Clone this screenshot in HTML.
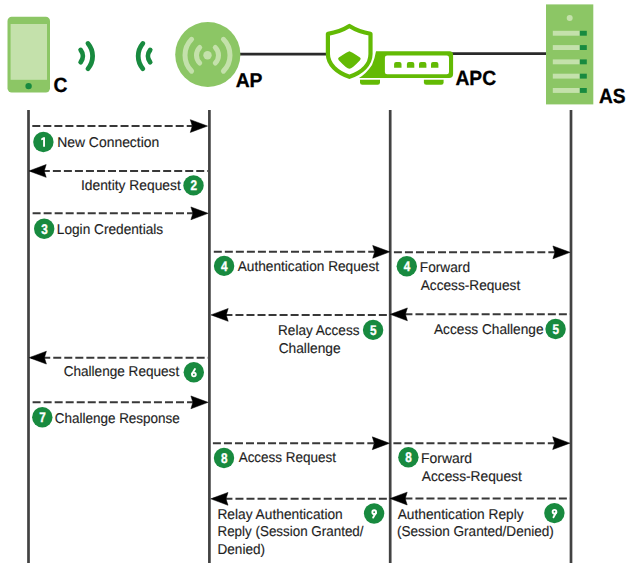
<!DOCTYPE html>
<html><head><meta charset="utf-8"><style>
html,body{margin:0;padding:0;background:#fff;}
svg{display:block;font-family:"Liberation Sans",sans-serif;}
</style></head><body>
<svg width="628" height="571" viewBox="0 0 628 571">
<rect width="628" height="571" fill="#fff"/>
<rect x="7.5" y="16.7" width="42.5" height="75.7" rx="4.2" fill="#8cc665"/>
<rect x="10.6" y="24" width="36.4" height="55.8" fill="#c4e1ab"/>
<circle cx="28.6" cy="86.1" r="3.2" fill="#188a3f"/>
<text x="53.40" y="91.7" font-size="20.6" font-weight="bold" fill="#000" stroke="#000" stroke-width="0.3" textLength="13.9" lengthAdjust="spacingAndGlyphs" text-rendering="geometricPrecision">C</text>
<path d="M80.67 50.00 A9.8 9.8 0 0 1 80.67 62.20 M87.97 43.45 A19.6 19.6 0 0 1 87.97 68.75" fill="none" stroke="#188a3f" stroke-width="4.8" stroke-linecap="round"/>
<path d="M150.17 62.25 A9.8 9.8 0 0 1 150.17 49.95 M142.83 68.75 A19.6 19.6 0 0 1 142.83 43.45" fill="none" stroke="#188a3f" stroke-width="4.8" stroke-linecap="round"/>
<line x1="236" y1="54.1" x2="330" y2="54.1" stroke="#2a2a2a" stroke-width="2.8"/>
<line x1="450" y1="53.65" x2="550" y2="53.65" stroke="#2a2a2a" stroke-width="2.8"/>
<circle cx="207.8" cy="54.5" r="32.6" fill="#8cc665"/>
<circle cx="207.5" cy="55.2" r="4.2" fill="#c4e1ab"/>
<path d="M199.72 62.98 A11 11 0 0 1 199.72 47.42 M191.59 71.11 A22.5 22.5 0 0 1 191.59 39.29 M215.28 47.42 A11 11 0 0 1 215.28 62.98 M223.41 39.29 A22.5 22.5 0 0 1 223.41 71.11" fill="none" stroke="#c4e1ab" stroke-width="5" stroke-linecap="round"/>
<text x="235.70" y="86.8" font-size="19.9" font-weight="bold" fill="#000" stroke="#000" stroke-width="0.3" textLength="26.8" lengthAdjust="spacingAndGlyphs" text-rendering="geometricPrecision">AP</text>
<path d="M349.4 26 C343 30 335 32.7 327.9 33.8 L327.9 54 C327.9 64.5 337 72.5 349.4 76.8 C361.8 72.5 370.5 64.5 370.5 54 L370.5 33.8 C363.8 32.7 355.8 30 349.4 26 Z" fill="#fff" stroke="#63ba04" stroke-width="4.2" stroke-linejoin="round"/>
<path d="M349.4 51.2 Q350.5 51.2 360 57.5 Q361.5 58.8 360 60.2 Q352 68.8 349.4 68.8 Q346.8 68.8 338.8 60.2 Q337.3 58.8 338.8 57.5 Q348.3 51.2 349.4 51.2 Z" fill="#63ba04"/>
<path d="M376 51.3 L449.6 51.3 Q453.1 51.3 453.1 54.8 L453.1 73.9 Q453.1 77.9 449.1 77.9 L359 77.9 Q366 74 372 65 Q375 58 376 51.3 Z" fill="#63ba04"/>
<rect x="384.9" y="55.6" width="64.1" height="18.6" rx="2.2" fill="#fff"/>
<path d="M394.1 67.8 L394.1 64.0 Q394.1 62.0 396.1 62.0 L399.50 62.0 Q401.50 62.0 401.50 64.0 L401.50 67.8 Z" fill="#63ba04"/>
<path d="M406.9 67.8 L406.9 64.0 Q406.9 62.0 408.9 62.0 L412.30 62.0 Q414.30 62.0 414.30 64.0 L414.30 67.8 Z" fill="#63ba04"/>
<path d="M419.0 67.8 L419.0 64.0 Q419.0 62.0 421.0 62.0 L424.40 62.0 Q426.40 62.0 426.40 64.0 L426.40 67.8 Z" fill="#63ba04"/>
<path d="M431.0 67.8 L431.0 64.0 Q431.0 62.0 433.0 62.0 L436.40 62.0 Q438.40 62.0 438.40 64.0 L438.40 67.8 Z" fill="#63ba04"/>
<path d="M360 79.8 L380 79.8 L380 82.5 Q380 84.8 377.7 84.8 L362.3 84.8 Q360 84.8 360 82.5 Z" fill="#63ba04"/>
<path d="M423.9 79.8 L443.6 79.8 L443.6 82.5 Q443.6 84.8 441.3 84.8 L426.2 84.8 Q423.9 84.8 423.9 82.5 Z" fill="#63ba04"/>
<text x="455.40" y="85.0" font-size="20.6" font-weight="bold" fill="#000" stroke="#000" stroke-width="0.3" textLength="40.7" lengthAdjust="spacingAndGlyphs" text-rendering="geometricPrecision">APC</text>
<rect x="546" y="4.4" width="47.3" height="100" fill="#8cc665"/>
<circle cx="569.7" cy="18.1" r="3" fill="#c4e1ab"/>
<rect x="552.8" y="30.8" width="27" height="4.9" fill="#c4e1ab"/>
<rect x="579.8" y="30.8" width="7" height="4.9" fill="#188a3f"/>
<rect x="552.8" y="45.1" width="27" height="4.9" fill="#c4e1ab"/>
<rect x="579.8" y="45.1" width="7" height="4.9" fill="#188a3f"/>
<rect x="552.8" y="59.4" width="27" height="4.9" fill="#c4e1ab"/>
<rect x="579.8" y="59.4" width="7" height="4.9" fill="#188a3f"/>
<rect x="552.8" y="73.7" width="27" height="4.9" fill="#c4e1ab"/>
<rect x="579.8" y="73.7" width="7" height="4.9" fill="#188a3f"/>
<rect x="552.8" y="88.0" width="27" height="4.9" fill="#c4e1ab"/>
<rect x="579.8" y="88.0" width="7" height="4.9" fill="#188a3f"/>
<text x="598.90" y="103.3" font-size="20.6" font-weight="bold" fill="#000" stroke="#000" stroke-width="0.3" textLength="26.6" lengthAdjust="spacingAndGlyphs" text-rendering="geometricPrecision">AS</text>
<line x1="28.5" y1="110" x2="28.5" y2="563" stroke="#424242" stroke-width="2.7"/>
<line x1="209.4" y1="110" x2="209.4" y2="563" stroke="#424242" stroke-width="2.7"/>
<line x1="390.2" y1="110" x2="390.2" y2="563" stroke="#424242" stroke-width="2.7"/>
<line x1="571" y1="110" x2="571" y2="563" stroke="#424242" stroke-width="2.7"/>
<line x1="32.3" y1="126.05" x2="192.30" y2="126.05" stroke="#383838" stroke-width="2" stroke-dasharray="8 3.03"/>
<path d="M207.5 126.05 L190.30 119.65 L192.30 126.05 L190.30 132.45 Z" fill="#000" stroke="#000" stroke-width="0.5"/>
<line x1="30.8" y1="170.95" x2="208.0" y2="170.95" stroke="#383838" stroke-width="2" stroke-dasharray="8 3.03"/>
<path d="M29.0 170.95 L46.20 164.55 L44.20 170.95 L46.20 177.35 Z" fill="#000" stroke="#000" stroke-width="0.5"/>
<line x1="32.6" y1="213.35" x2="192.90" y2="213.35" stroke="#383838" stroke-width="2" stroke-dasharray="8 3.03"/>
<path d="M208.1 213.35 L190.90 206.95 L192.90 213.35 L190.90 219.75 Z" fill="#000" stroke="#000" stroke-width="0.5"/>
<line x1="31.2" y1="357.65" x2="208.0" y2="357.65" stroke="#383838" stroke-width="2" stroke-dasharray="8 3.03"/>
<path d="M29.2 357.65 L46.40 351.25 L44.40 357.65 L46.40 364.05 Z" fill="#000" stroke="#000" stroke-width="0.5"/>
<line x1="32.6" y1="402.35" x2="192.90" y2="402.35" stroke="#383838" stroke-width="2" stroke-dasharray="8 3.03"/>
<path d="M208.1 402.35 L190.90 395.95 L192.90 402.35 L190.90 408.75 Z" fill="#000" stroke="#000" stroke-width="0.5"/>
<line x1="213.8" y1="251.85" x2="374.70" y2="251.85" stroke="#383838" stroke-width="2" stroke-dasharray="8 3.03"/>
<path d="M389.9 251.85 L372.70 245.45 L374.70 251.85 L372.70 258.25 Z" fill="#000" stroke="#000" stroke-width="0.5"/>
<line x1="213.4" y1="314.9" x2="389.2" y2="314.9" stroke="#383838" stroke-width="2" stroke-dasharray="8 3.03"/>
<path d="M211.0 314.9 L228.20 308.50 L226.20 314.9 L228.20 321.30 Z" fill="#000" stroke="#000" stroke-width="0.5"/>
<line x1="212.9" y1="443.25" x2="374.30" y2="443.25" stroke="#383838" stroke-width="2" stroke-dasharray="8 3.03"/>
<path d="M389.5 443.25 L372.30 436.85 L374.30 443.25 L372.30 449.65 Z" fill="#000" stroke="#000" stroke-width="0.5"/>
<line x1="213.4" y1="498.85" x2="389.2" y2="498.85" stroke="#383838" stroke-width="2" stroke-dasharray="8 3.03"/>
<path d="M210.8 498.85 L228.00 492.45 L226.00 498.85 L228.00 505.25 Z" fill="#000" stroke="#000" stroke-width="0.5"/>
<line x1="393.9" y1="252.35" x2="554.90" y2="252.35" stroke="#383838" stroke-width="2" stroke-dasharray="8 3.03"/>
<path d="M570.1 252.35 L552.90 245.95 L554.90 252.35 L552.90 258.75 Z" fill="#000" stroke="#000" stroke-width="0.5"/>
<line x1="393.4" y1="314.35" x2="570.0" y2="314.35" stroke="#383838" stroke-width="2" stroke-dasharray="8 3.03"/>
<path d="M390.2 314.35 L407.40 307.95 L405.40 314.35 L407.40 320.75 Z" fill="#000" stroke="#000" stroke-width="0.5"/>
<line x1="393.4" y1="443.15" x2="554.70" y2="443.15" stroke="#383838" stroke-width="2" stroke-dasharray="8 3.03"/>
<path d="M569.9 443.15 L552.70 436.75 L554.70 443.15 L552.70 449.55 Z" fill="#000" stroke="#000" stroke-width="0.5"/>
<line x1="393.4" y1="498.55" x2="570.0" y2="498.55" stroke="#383838" stroke-width="2" stroke-dasharray="8 3.03"/>
<path d="M390.0 498.55 L407.20 492.15 L405.20 498.55 L407.20 504.95 Z" fill="#000" stroke="#000" stroke-width="0.5"/>
<circle cx="43.4" cy="142" r="10.2" fill="#188a3f"/>
<path transform="translate(0.00 0.00)" d="M43.3 137.2 L45.0 137.2 L45.0 146.8 L43.1 146.8 L43.1 139.7 L41.2 140.2 L41.2 138.5 Z" fill="#fff"/>
<text x="57.17" y="146.9" font-size="14.2" fill="#1e1e1e" stroke="#1e1e1e" stroke-width="0.15" textLength="102.11" lengthAdjust="spacingAndGlyphs" text-rendering="geometricPrecision">New Connection</text>
<circle cx="193.5" cy="185.4" r="10.2" fill="#188a3f"/>
<text transform="translate(193.70 190.35) scale(0.84 1)" text-anchor="middle" font-size="14" font-weight="bold" fill="#fff" stroke="#fff" stroke-width="0.35" text-rendering="geometricPrecision">2</text>
<text x="81.01" y="189.8" font-size="14.2" fill="#1e1e1e" stroke="#1e1e1e" stroke-width="0.15" textLength="99.78" lengthAdjust="spacingAndGlyphs" text-rendering="geometricPrecision">Identity Request</text>
<circle cx="44.2" cy="228.75" r="10.2" fill="#188a3f"/>
<text transform="translate(44.40 233.70) scale(0.84 1)" text-anchor="middle" font-size="14" font-weight="bold" fill="#fff" stroke="#fff" stroke-width="0.35" text-rendering="geometricPrecision">3</text>
<text x="56.82" y="234.1" font-size="14.2" fill="#1e1e1e" stroke="#1e1e1e" stroke-width="0.15" textLength="106.33" lengthAdjust="spacingAndGlyphs" text-rendering="geometricPrecision">Login Credentials</text>
<circle cx="224.1" cy="265.9" r="10.2" fill="#188a3f"/>
<text transform="translate(224.30 270.85) scale(0.84 1)" text-anchor="middle" font-size="14" font-weight="bold" fill="#fff" stroke="#fff" stroke-width="0.35" text-rendering="geometricPrecision">4</text>
<text x="237.71" y="271.3" font-size="14.2" fill="#1e1e1e" stroke="#1e1e1e" stroke-width="0.15" textLength="141.36" lengthAdjust="spacingAndGlyphs" text-rendering="geometricPrecision">Authentication Request</text>
<circle cx="406.8" cy="266.3" r="10.2" fill="#188a3f"/>
<text transform="translate(407.00 271.25) scale(0.84 1)" text-anchor="middle" font-size="14" font-weight="bold" fill="#fff" stroke="#fff" stroke-width="0.35" text-rendering="geometricPrecision">4</text>
<text x="419.81" y="271.8" font-size="14.2" fill="#1e1e1e" stroke="#1e1e1e" stroke-width="0.15" textLength="50.22" lengthAdjust="spacingAndGlyphs" text-rendering="geometricPrecision">Forward</text>
<text x="420.69" y="289.6" font-size="14.2" fill="#1e1e1e" stroke="#1e1e1e" stroke-width="0.15" textLength="99.51" lengthAdjust="spacingAndGlyphs" text-rendering="geometricPrecision">Access-Request</text>
<text x="278.06" y="334.8" font-size="14.2" fill="#1e1e1e" stroke="#1e1e1e" stroke-width="0.15" textLength="81.42" lengthAdjust="spacingAndGlyphs" text-rendering="geometricPrecision">Relay Access</text>
<text x="278.64" y="352.6" font-size="14.2" fill="#1e1e1e" stroke="#1e1e1e" stroke-width="0.15" textLength="61.99" lengthAdjust="spacingAndGlyphs" text-rendering="geometricPrecision">Challenge</text>
<circle cx="373.1" cy="329.9" r="10.2" fill="#188a3f"/>
<text transform="translate(373.30 334.85) scale(0.84 1)" text-anchor="middle" font-size="14" font-weight="bold" fill="#fff" stroke="#fff" stroke-width="0.35" text-rendering="geometricPrecision">5</text>
<text x="433.95" y="333.5" font-size="14.2" fill="#1e1e1e" stroke="#1e1e1e" stroke-width="0.15" textLength="109.62" lengthAdjust="spacingAndGlyphs" text-rendering="geometricPrecision">Access Challenge</text>
<circle cx="555.6" cy="329.0" r="10.2" fill="#188a3f"/>
<text transform="translate(555.80 333.95) scale(0.84 1)" text-anchor="middle" font-size="14" font-weight="bold" fill="#fff" stroke="#fff" stroke-width="0.35" text-rendering="geometricPrecision">5</text>
<text x="63.69" y="375.9" font-size="14.2" fill="#1e1e1e" stroke="#1e1e1e" stroke-width="0.15" textLength="115.48" lengthAdjust="spacingAndGlyphs" text-rendering="geometricPrecision">Challenge Request</text>
<circle cx="193.8" cy="372.2" r="10.2" fill="#188a3f"/>
<circle cx="193.90" cy="374.50" r="1.85" fill="none" stroke="#fff" stroke-width="1.9"/>
<line x1="192.15" y1="373.85" x2="194.95" y2="369.05" stroke="#fff" stroke-width="1.9" stroke-linecap="round"/>
<circle cx="42.3" cy="417.2" r="10.2" fill="#188a3f"/>
<text transform="translate(42.50 422.15) scale(0.84 1)" text-anchor="middle" font-size="14" font-weight="bold" fill="#fff" stroke="#fff" stroke-width="0.35" text-rendering="geometricPrecision">7</text>
<text x="54.67" y="422.7" font-size="14.2" fill="#1e1e1e" stroke="#1e1e1e" stroke-width="0.15" textLength="125.20" lengthAdjust="spacingAndGlyphs" text-rendering="geometricPrecision">Challenge Response</text>
<circle cx="224" cy="458" r="10.2" fill="#188a3f"/>
<text transform="translate(224.20 462.95) scale(0.84 1)" text-anchor="middle" font-size="14" font-weight="bold" fill="#fff" stroke="#fff" stroke-width="0.35" text-rendering="geometricPrecision">8</text>
<text x="238.65" y="462.3" font-size="14.2" fill="#1e1e1e" stroke="#1e1e1e" stroke-width="0.15" textLength="97.36" lengthAdjust="spacingAndGlyphs" text-rendering="geometricPrecision">Access Request</text>
<circle cx="408.4" cy="457.3" r="10.2" fill="#188a3f"/>
<text transform="translate(408.60 462.25) scale(0.84 1)" text-anchor="middle" font-size="14" font-weight="bold" fill="#fff" stroke="#fff" stroke-width="0.35" text-rendering="geometricPrecision">8</text>
<text x="421.01" y="462.7" font-size="14.2" fill="#1e1e1e" stroke="#1e1e1e" stroke-width="0.15" textLength="51.06" lengthAdjust="spacingAndGlyphs" text-rendering="geometricPrecision">Forward</text>
<text x="421.73" y="480.7" font-size="14.2" fill="#1e1e1e" stroke="#1e1e1e" stroke-width="0.15" textLength="100.09" lengthAdjust="spacingAndGlyphs" text-rendering="geometricPrecision">Access-Request</text>
<text x="217.42" y="518.9" font-size="14.2" fill="#1e1e1e" stroke="#1e1e1e" stroke-width="0.15" textLength="125.33" lengthAdjust="spacingAndGlyphs" text-rendering="geometricPrecision">Relay Authentication</text>
<text x="217.48" y="536.4" font-size="14.2" fill="#1e1e1e" stroke="#1e1e1e" stroke-width="0.15" textLength="146.08" lengthAdjust="spacingAndGlyphs" text-rendering="geometricPrecision">Reply (Session Granted/</text>
<text x="217.48" y="554" font-size="14.2" fill="#1e1e1e" stroke="#1e1e1e" stroke-width="0.15" textLength="47.57" lengthAdjust="spacingAndGlyphs" text-rendering="geometricPrecision">Denied)</text>
<circle cx="374.1" cy="513.55" r="10.2" fill="#188a3f"/>
<circle cx="374.20" cy="512.15" r="1.85" fill="none" stroke="#fff" stroke-width="1.9"/>
<line x1="375.95" y1="512.80" x2="373.15" y2="517.60" stroke="#fff" stroke-width="1.9" stroke-linecap="round"/>
<text x="397.73" y="518.6" font-size="14.2" fill="#1e1e1e" stroke="#1e1e1e" stroke-width="0.15" textLength="125.87" lengthAdjust="spacingAndGlyphs" text-rendering="geometricPrecision">Authentication Reply</text>
<text x="396.96" y="536.3" font-size="14.2" fill="#1e1e1e" stroke="#1e1e1e" stroke-width="0.15" textLength="156.93" lengthAdjust="spacingAndGlyphs" text-rendering="geometricPrecision">(Session Granted/Denied)</text>
<circle cx="554.4" cy="513.1" r="10.2" fill="#188a3f"/>
<circle cx="554.50" cy="511.70" r="1.85" fill="none" stroke="#fff" stroke-width="1.9"/>
<line x1="556.25" y1="512.35" x2="553.45" y2="517.15" stroke="#fff" stroke-width="1.9" stroke-linecap="round"/>
</svg>
</body></html>
